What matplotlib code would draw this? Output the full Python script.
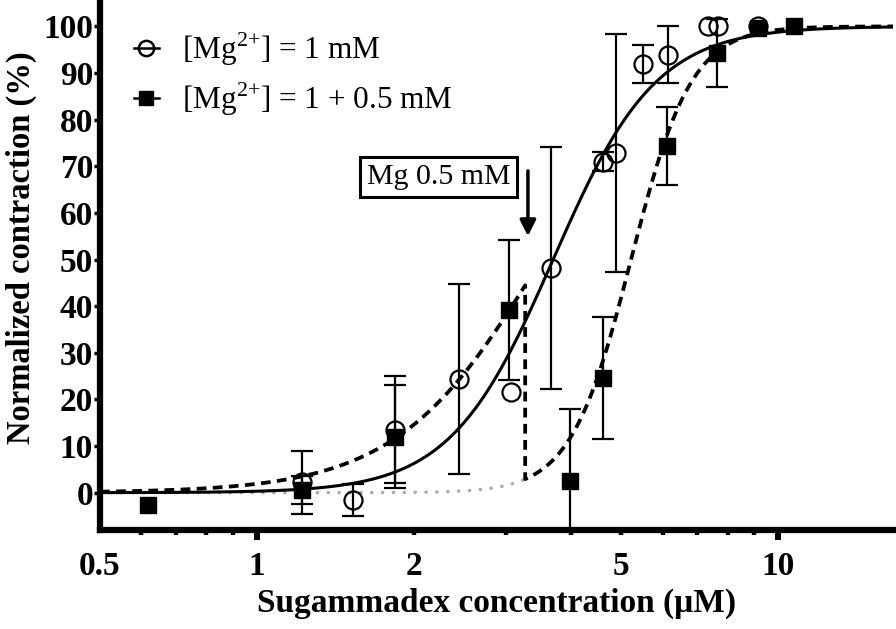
"""Concentration-response of sugammadex reversal at two [Mg2+] levels."""

import matplotlib

matplotlib.use("Agg")  # noqa: E402

import matplotlib.pyplot as plt
import numpy as np
from matplotlib.lines import Line2D
from matplotlib.ticker import FixedLocator, NullFormatter

plt.rcParams["font.family"] = ["Liberation Serif", "DejaVu Serif"]
plt.rcParams["mathtext.fontset"] = "custom"
plt.rcParams["mathtext.rm"] = "Liberation Serif"

# [Mg2+] = 1 mM (open circles): concentration (uM), mean (%), SEM (%)
conc_1 = [1.22, 1.53, 1.84, 2.445, 3.07, 3.67, 4.61, 4.89, 5.51, 6.14, 7.33, 7.66, 9.14]
resp_1 = [2.2, -1.5, 13.5, 24.4, 21.6, 48.2, 71.0, 72.8, 91.9, 93.9, 100.0, 100.0, 100.0]
sem_1 = [6.8, 3.4, 11.5, 20.4, 0.0, 26.0, 2.0, 25.5, 4.1, 6.1, 0.0, 0.0, 0.0]

# [Mg2+] = 1 + 0.5 mM (filled squares)
conc_2 = [0.617, 1.22, 1.84, 3.05, 3.98, 4.61, 6.12, 7.63, 9.14, 10.7]
resp_2 = [-2.6, 0.6, 12.0, 39.2, 2.4, 24.6, 74.4, 94.2, 99.6, 100.0]
sem_2 = [0.0, 3.0, 11.0, 15.0, 15.5, 13.1, 8.4, 7.3, 0.0, 0.0]

# Hill fits: (EC50 in uM, Hill slope)
fit_1 = (3.7, 4.4)
fit_2_before = (3.51, 3.14)
fit_2_after = (5.22, 7.5)
mg_added_at = 3.27  # uM, where extra 0.5 mM Mg was added

x_ticks = [0.5, 1, 2, 5, 10]
x_tick_labels = ["0.5", "1", "2", "5", "10"]
x_minor = [0.6, 0.7, 0.8, 0.9, 3, 4, 6, 7, 8, 9]
y_ticks = list(range(0, 101, 10))


def hill(x, ec50, n):
    return 100.0 / (1.0 + (ec50 / x) ** n)


def with_sem(conc, resp, sem):
    """Keep only points whose SEM bar is drawn."""
    keep = [i for i, s in enumerate(sem) if s > 0]
    return ([conc[i] for i in keep], [resp[i] for i in keep],
            [sem[i] for i in keep])


fig = plt.figure(figsize=(8.96, 6.29), dpi=100)
ax = fig.add_axes([100 / 896, 99 / 629, 793 / 896, 527 / 629])
ax.set_xscale("log")
ax.set_xlim(0.5, 16.6)
ax.set_ylim(-8, 105)

# fitted curves
xs = np.geomspace(0.5, 16.6, 400)
ax.plot(xs, hill(xs, *fit_1), color="black", lw=2.2, zorder=3)

x_left = np.geomspace(0.5, mg_added_at, 200)
x_right = np.geomspace(mg_added_at, 16.6, 200)
ax.plot(x_left, hill(x_left, *fit_2_after), color="#aaaaaa", lw=2.6,
        linestyle=(0, (0.01, 3.0)), dash_capstyle="round", zorder=2)
dash_x = np.concatenate([x_left, x_right])
dash_y = np.concatenate([hill(x_left, *fit_2_before), hill(x_right, *fit_2_after)])
ax.plot(dash_x, dash_y, color="black", lw=2.7, linestyle=(0, (2.6, 1.7)), zorder=3)

# SEM bars
err_style = dict(fmt="none", ecolor="black", elinewidth=1.6, capsize=8,
                 capthick=1.6, zorder=4)
cx, cy, ce = with_sem(conc_2, resp_2, sem_2)
ax.errorbar(cx, cy, yerr=ce, **err_style)
cx, cy, ce = with_sem(conc_1, resp_1, sem_1)
ax.errorbar(cx, cy, yerr=ce, **err_style)

# markers
ax.plot(conc_2, resp_2, "s", ms=12, color="black", zorder=5)
ax.plot(conc_1, resp_1, "o", ms=13, mfc="none", mec="black", mew=1.6, zorder=6)

# Mg addition marker
ax.text(2.23, 67.7, "Mg 0.5 mM", fontsize=21.5, ha="center", va="center",
        bbox=dict(boxstyle="square,pad=0.22", fc="white", ec="black", lw=2.2))
ax.annotate("", xy=(3.31, 55), xytext=(3.31, 69),
            arrowprops=dict(arrowstyle="-|>", color="black", lw=2.5,
                            mutation_scale=24, shrinkA=0, shrinkB=0))

# axes styling
for side in ("top", "right"):
    ax.spines[side].set_visible(False)
for side in ("left", "bottom"):
    ax.spines[side].set_linewidth(4.5)

ax.xaxis.set_major_locator(FixedLocator(x_ticks))
ax.set_xticklabels(x_tick_labels)
ax.xaxis.set_minor_locator(FixedLocator(x_minor))
ax.xaxis.set_minor_formatter(NullFormatter())
ax.tick_params(axis="x", which="major", length=7, width=4.3, pad=8,
               labelsize=24)
ax.tick_params(axis="x", which="minor", length=3.5, width=3.2)
for tick, val in zip(ax.xaxis.get_major_ticks(), x_ticks):
    if val in (2, 5):
        tick.tick1line.set_markersize(3.5)
        tick.tick1line.set_markeredgewidth(3.2)
    elif val == 0.5:
        tick.tick1line.set_markersize(0)

ax.set_yticks(y_ticks)
ax.tick_params(axis="y", length=4, width=2.5, pad=1, labelsize=24)
for lab in ax.get_xticklabels() + ax.get_yticklabels():
    lab.set_fontweight("bold")

ax.set_xlabel("Sugammadex concentration (μM)", fontsize=24, fontweight="bold",
              labelpad=4)
ax.set_ylabel("Normalized contraction (%)", fontsize=23.5, fontweight="bold")
ax.yaxis.set_label_coords(-0.08, 0.535)

handles = [
    Line2D([], [], color="black", lw=1.8, marker="o", ms=11, mfc="none", mew=1.8),
    Line2D([], [], color="black", lw=1.8, marker="s", ms=10, mfc="black"),
]
labels = [r"[Mg$^{2{+}}$] = 1 mM", r"[Mg$^{2{+}}$] = 1 + 0.5 mM"]
ax.legend(handles, labels, loc="upper left", bbox_to_anchor=(0.027, 0.972),
          frameon=False, fontsize=22.5, handlelength=0.8, handletextpad=0.75,
          labelspacing=0.4, borderaxespad=0)

fig.savefig("out.png", dpi=100)
